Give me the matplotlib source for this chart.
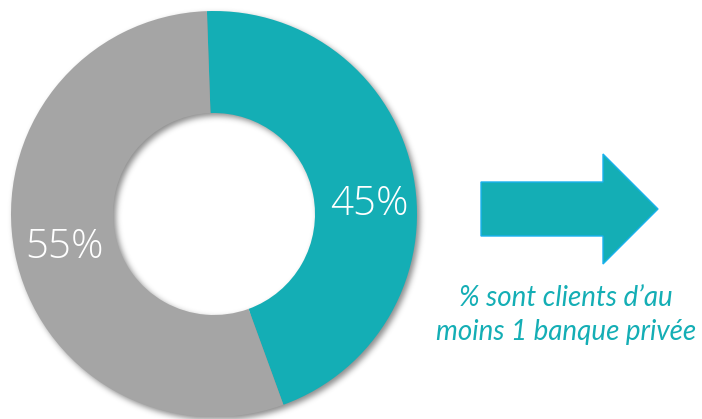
import numpy as np
import matplotlib
matplotlib.use("Agg")
import matplotlib.pyplot as plt
from matplotlib.patches import FancyArrow

# Part des répondants clients d'au moins une banque privée
values = [45, 55]
labels = ["45%", "55%"]
colors = ["#14AEB5", "#A5A5A5"]
caption = "% sont clients d\u2019au\nmoins 1 banque privée"

W, H = 702, 419
fig = plt.figure(figsize=(W / 100, H / 100), dpi=100)
ax = fig.add_axes([0, 0, 1, 1])

cx, cy = 214, 205
R_out, R_in = 203, 101

# ombre portée douce sous l'anneau (décalée vers le bas à droite)
yy, xx = np.mgrid[0:H, 0:W] + 0.5
d = np.hypot(xx - (cx + 3), yy - (cy - 3))
ring = np.clip(R_out - d + 0.5, 0, 1) * np.clip(d - R_in + 0.5, 0, 1)

def blur(img, sigma):
    k = np.arange(-3 * sigma, 3 * sigma + 1)
    g = np.exp(-k**2 / (2 * sigma**2))
    g /= g.sum()
    img = np.apply_along_axis(lambda r: np.convolve(r, g, mode="same"), 1, img)
    img = np.apply_along_axis(lambda c: np.convolve(c, g, mode="same"), 0, img)
    return img

shadow = blur(ring, 3)
rgba = np.zeros((H, W, 4))
rgba[..., 3] = shadow * 0.45
ax.imshow(rgba, extent=(0, W, 0, H), origin="lower", zorder=0, interpolation="bilinear")

wedges, _ = ax.pie(values, colors=colors, startangle=92, counterclock=False,
                   radius=R_out, center=(cx, cy),
                   wedgeprops=dict(width=R_out - R_in, linewidth=0))
for w in wedges:
    w.set_zorder(1)

ax.text(369, 215, labels[0], color="white", fontsize=29, family="Open Sans",
        fontweight="light", ha="center", va="center", zorder=3)
ax.text(64, 171, labels[1], color="white", fontsize=29, family="Open Sans",
        fontweight="light", ha="center", va="center", zorder=3)

# flèche
arrow = FancyArrow(481, 210, 177, 0, width=54, head_width=110, head_length=55,
                   length_includes_head=True, facecolor="#14AEB5",
                   edgecolor="#1AB2EE", linewidth=1.0, zorder=2)
ax.add_patch(arrow)

ax.text(566, 104, caption, color="#14AEB5", fontsize=20, family="Lato",
        style="italic", ha="center", va="center", linespacing=1.4, zorder=3)

ax.set_xlim(0, W)
ax.set_ylim(0, H)
ax.set_aspect("equal")
ax.axis("off")

fig.savefig("out.png", dpi=100, facecolor="white")
